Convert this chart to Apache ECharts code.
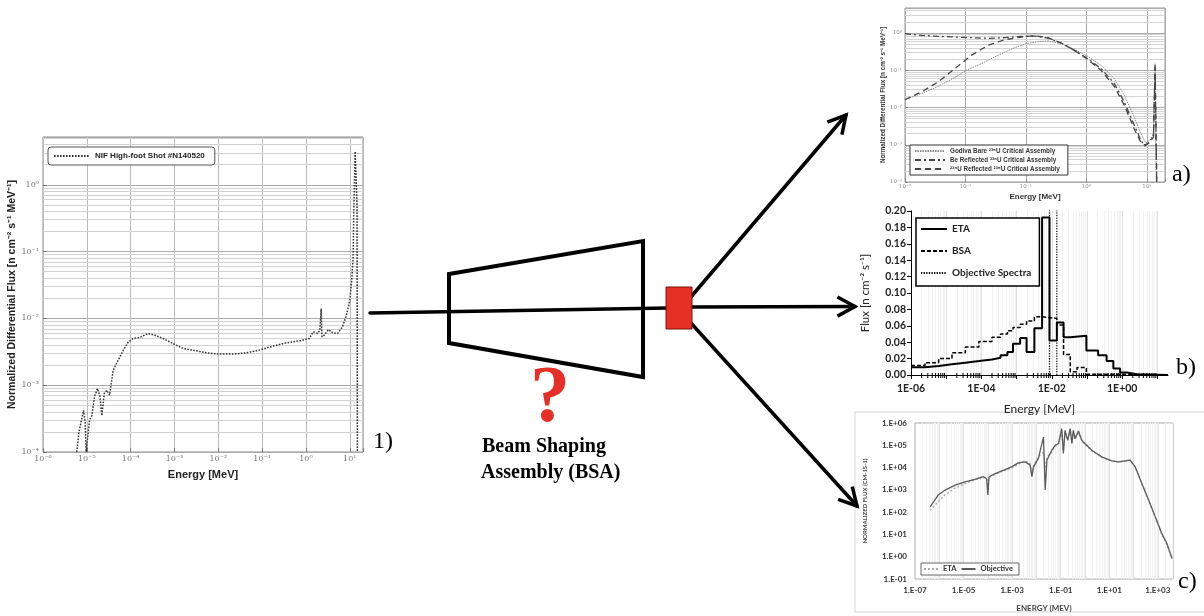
<!DOCTYPE html>
<html><head><meta charset="utf-8">
<script src="https://cdn.jsdelivr.net/npm/echarts@6/dist/echarts.min.js"></script>
<style>html,body{margin:0;padding:0;background:#fff}#c{width:1204px;height:616px}</style>
</head><body><div id="c"></div>
<script>
// ---------- Panel 1) NIF spectrum ----------
const nifEnergy = [5.9e-6,6.6e-6,7.3e-6,8.4e-6,9.2e-6,9.7e-6,1.03e-5,1.15e-5,1.3e-5,1.49e-5,1.75e-5,2.0e-5,2.2e-5,2.5e-5,2.85e-5,3.3e-5,4.0e-5,5.2e-5,6.8e-5,8.9e-5,1.15e-4,1.63e-4,2.5e-4,3.6e-4,5.5e-4,9.3e-4,1.57e-3,2.65e-3,5.3e-3,1.07e-2,2.15e-2,4.3e-2,8.7e-2,0.175,0.35,0.70,1.19,1.47,1.84,2.08,2.23,2.31,2.61,3.27,4.04,5.25,6.8,8.4,10.0,11.1,11.9,12.3,12.8,13.2,14.6,14.9];
const nifFlux = [1.0e-4,2.0e-4,2.7e-4,4.2e-4,2.7e-4,1.0e-4,1.5e-4,3.0e-4,3.5e-4,6.7e-4,8.9e-4,6.7e-4,3.5e-4,7.5e-4,8.4e-4,7.1e-4,1.68e-3,2.37e-3,3.35e-3,4.47e-3,5.0e-3,5.2e-3,5.96e-3,5.6e-3,5.0e-3,4.2e-3,3.55e-3,3.35e-3,3.05e-3,2.92e-3,2.92e-3,3.05e-3,3.35e-3,3.85e-3,4.3e-3,4.6e-3,5.0e-3,6.3e-3,5.96e-3,6.7e-3,1.4e-2,5.3e-3,5.6e-3,6.8e-3,6.1e-3,5.96e-3,7.5e-3,1.12e-2,1.88e-2,3.76e-2,8.4e-2,0.376,1.19,3.16,0.5,1.0e-4];
const nifName = 'NIF High-foot Shot #N140520';

// ---------- Panel a) critical assemblies ----------
const aEnergy = [1e-3,1.88e-3,3.55e-3,6.67e-3,9.8e-3,1.84e-2,3.46e-2,6.5e-2,0.101,0.158,0.231,0.382,0.634,1.05,1.75,2.9,4.23,6.18,7.95,9.6,11.3,12.9,13.7,14.3];
const godivaFlux = [0.0164,0.0237,0.0372,0.0637,0.096,0.151,0.252,0.405,0.518,0.586,0.61,0.518,0.365,0.237,0.136,0.0598,0.0214,0.0056,0.002,0.00113,0.00133,0.002,0.151,1.0e-4];
const bEnergy = [1e-3,1.88e-3,3.55e-3,6.67e-3,1.25e-2,2.36e-2,4.45e-2,8.4e-2,0.139,0.231,0.382,0.634,1.05,1.75,2.9,4.23,6.18,7.95,9.3,11.0,12.9,13.7,14.6];
const beFlux = [0.96,0.866,0.814,0.78,0.75,0.72,0.75,0.814,0.83,0.735,0.54,0.343,0.205,0.111,0.044,0.0142,0.0034,0.00134,0.00092,0.00118,0.0018,0.136,1.0e-4];
const uFlux = [0.0162,0.0264,0.0487,0.111,0.252,0.467,0.663,0.78,0.848,0.75,0.54,0.343,0.197,0.1,0.037,0.0116,0.0027,0.00118,0.00099,0.00113,0.0016,0.123,1.0e-4];
const aNames = ['Godiva Bare \u00B2\u00B3\u2075U Critical Assembly','Be Reflected \u00B2\u00B3\u2075U Critical Assembly','\u00B2\u00B3\u2078U Reflected \u00B2\u00B3\u2075U Critical Assembly'];

// ---------- Panel b) group fluxes ----------
const etaEdges = [1e-6,2.5e-6,6.1e-6,1.46e-5,3.5e-5,8.5e-5,2.0e-4,3.5e-4,5.5e-4,7.9e-4,1.26e-3,1.92e-3,3.2e-3,5.3e-3,8.6e-3,1.39e-2,2.16e-2,3.35e-2,9.6e-2,0.207,0.36,0.56,0.87,1.35,2.6,20];
const etaFlux = [0.0095,0.011,0.013,0.015,0.017,0.019,0.021,0.024,0.028,0.038,0.045,0.028,0.057,0.192,0.042,0.064,0.046,0.048,0.030,0.024,0.017,0.008,0.003,0.001,0.0];
const bsaEdges = [1e-6,2.5e-6,6.1e-6,1.46e-5,3.5e-5,8.5e-5,2.0e-4,3.5e-4,5.5e-4,7.9e-4,1.26e-3,1.92e-3,3.2e-3,5.3e-3,1.39e-2,2.16e-2,3.35e-2,5.2e-2,9.6e-2,0.87,20];
const bsaFlux = [0.0115,0.015,0.020,0.027,0.034,0.041,0.046,0.050,0.054,0.058,0.062,0.066,0.071,0.069,0.061,0.025,0.004,0.009,0.001,0.0];
const objEnergy = [0.0086,0.0086,0.0139,0.0139];
const objFlux = [0,0.25,0.25,0];
const bNames = ['ETA','BSA','Objective Spectra'];

// ---------- Panel c) normalized flux ----------
const cEnergy = [4.2e-7,9.1e-7,1.74e-6,4.5e-6,1.15e-5,2.95e-5,6.6e-5,8.9e-5,1.0e-4,1.12e-4,2.0e-4,5.1e-4,9.5e-4,1.8e-3,3.4e-3,5.5e-3,6.5e-3,7.6e-3,1.2e-2,1.95e-2,2.3e-2,2.7e-2,4.3e-2,5.9e-2,8.1e-2,0.11,0.129,0.151,0.195,0.245,0.288,0.331,0.389,0.537,0.741,1.0,1.9,4.9,12.6,24,44.7,72,117,219,417,776,1445,2340,3240,3800];
const cObjective = [174,589,977,1620,2290,2950,3890,3240,589,3890,5370,8130,10700,16200,18200,12900,3890,10700,25700,234000,977,21400,60300,100000,120000,562000,42700,468000,166000,562000,120000,468000,200000,437000,166000,120000,60300,30200,20000,18200,20000,21400,10700,1950,347,63,11.2,4,1.45,0.85];
const cEta = [120,300,600,1200,1900,2800,3600,3300,1500,3600,5000,7500,9800,14000,20000,15000,6000,12000,30000,50000,9000,30000,50000,90000,110000,400000,60000,350000,180000,450000,130000,380000,180000,350000,150000,110000,56000,29000,19500,17800,19500,21000,10500,1900,330,60,10,3.5,1.3,0.8];
const cNames = ['ETA|c','Objective|c'];

// ---------- helpers (formatting / gridline positions only) ----------
const SUPMAP = {'-':'\u207B','0':'\u2070','1':'\u00B9','2':'\u00B2','3':'\u00B3','4':'\u2074','5':'\u2075','6':'\u2076','7':'\u2077','8':'\u2078','9':'\u2079'};
const sup = s => String(s).split('').map(c => SUPMAP[c] || c).join('');
function expOf(v){ const l = Math.log10(v), e = Math.round(l); return Math.abs(l - e) < 1e-6 ? e : null; }
function labPow(v){ const e = expOf(v); return e === null ? '' : '10' + sup(e); }
function ePart(e){ return (e < 0 ? '-' : '+') + String(Math.abs(e)).padStart(2, '0'); }
function labE(v){ const e = expOf(v); return (e === null || e % 2 !== 0) ? '' : '1E' + ePart(e); }
function labDotOdd(v){ const e = expOf(v); return (e === null || Math.abs(e % 2) !== 1) ? '' : '1.E' + ePart(e); }
function labDot(v){ const e = expOf(v); return e === null ? '' : '1.E' + ePart(e); }
function minorVals(lo, hi){ const out = []; for (let n = Math.floor(Math.log10(lo)); n <= Math.ceil(Math.log10(hi)); n++) for (let k = 2; k <= 9; k++){ const v = k * Math.pow(10, n); if (v > lo * 1.0001 && v < hi * 0.9999) out.push(v); } return out; }
function decadeVals(lo, hi){ const out = []; for (let n = Math.ceil(Math.log10(lo)); n <= Math.floor(Math.log10(hi)); n++) out.push(Math.pow(10, n)); return out; }
const pairs = (xs, ys) => xs.map((x, i) => [x, ys[i]]);
const stepPairs = (edges, vals) => edges.map((x, i) => [x, vals[Math.min(i, vals.length - 1)]]);
function arrowHead(x1, y1, x2, y2, len, ang){ const a = Math.atan2(y2 - y1, x2 - x1); return [[x2 - len*Math.cos(a-ang), y2 - len*Math.sin(a-ang)], [x2, y2], [x2 - len*Math.cos(a+ang), y2 - len*Math.sin(a+ang)]]; }

const SANS = 'Liberation Sans', CAL = 'Lato', SERIF = 'Liberation Serif';
const mlBase = { silent: true, symbol: 'none', animation: false, precision: 12, z: 1, label: { show: false }, emphasis: { disabled: true } };
const noSym = { opacity: 0 };

const chart = echarts.init(document.getElementById('c'), null, { renderer: 'canvas' });

const option = {
  animation: false,
  backgroundColor: '#fff',
  grid: [
    { left: 43, top: 137, width: 320, height: 315, show: true, borderColor: '#888', borderWidth: 1, outerBoundsMode: 'none' },
    { left: 905, top: 8, width: 260, height: 174, show: true, borderColor: '#999', borderWidth: 1, outerBoundsMode: 'none' },
    { left: 911, top: 211, width: 257, height: 164, show: false, outerBoundsMode: 'none' },
    { left: 915, top: 423, width: 258, height: 156, show: true, borderColor: '#aaa', borderWidth: 1, outerBoundsMode: 'none' }
  ],
  xAxis: [
    { type: 'log', gridIndex: 0, min: 1e-6, max: 20, name: 'Energy [MeV]', nameLocation: 'middle', nameGap: 17,
      nameTextStyle: { fontFamily: SANS, fontWeight: 'bold', fontSize: 11, color: '#222' },
      axisLine: { show: false }, axisTick: { show: true, inside: true, length: 4, lineStyle: { color: '#777' } },
      axisLabel: { formatter: labPow, fontSize: 8, color: '#777', fontFamily: 'DejaVu Serif', margin: 3 },
      splitLine: { show: true, lineStyle: { color: '#bbb', width: 1 } } },
    { type: 'log', gridIndex: 1, min: 1e-3, max: 20, name: 'Energy [MeV]', nameLocation: 'middle', nameGap: 11,
      nameTextStyle: { fontFamily: SANS, fontWeight: 'bold', fontSize: 8, color: '#333' },
      axisLine: { show: false }, axisTick: { show: true, inside: true, length: 3, lineStyle: { color: '#888' } },
      axisLabel: { formatter: labPow, fontSize: 5.5, color: '#888', fontFamily: 'DejaVu Serif', margin: 2 },
      splitLine: { show: true, lineStyle: { color: '#aaa', width: 1 } } },
    { type: 'log', gridIndex: 2, min: 1e-6, max: 20, name: 'Energy [MeV]', nameLocation: 'middle', nameGap: 28,
      nameTextStyle: { fontFamily: CAL, fontSize: 12, color: '#222' },
      axisLine: { show: true, onZero: false, lineStyle: { color: '#000', width: 1 } },
      axisTick: { show: true, length: 4, lineStyle: { color: '#000' } },
      axisLabel: { formatter: labE, fontSize: 10.5, fontWeight: 'bold', color: '#222', fontFamily: CAL, margin: 8, showMaxLabel: false },
      splitLine: { show: false } },
    { type: 'log', gridIndex: 3, min: 1e-7, max: 4200, interval: 1, name: 'ENERGY (MEV)', nameLocation: 'middle', nameGap: 25,
      nameTextStyle: { fontFamily: CAL, fontWeight: 'bold', fontSize: 8, color: '#444' },
      axisLine: { show: false }, axisTick: { show: false },
      axisLabel: { formatter: labDotOdd, fontSize: 8, fontWeight: 'bold', color: '#333', fontFamily: CAL, margin: 7, showMaxLabel: false },
      splitLine: { show: false } }
  ],
  yAxis: [
    { type: 'log', gridIndex: 0, min: 1e-4, max: 5.2, name: 'Normalized Differential Flux [n cm\u207B\u00B2 s\u207B\u00B9 MeV\u207B\u00B9]',
      nameLocation: 'middle', nameGap: 23, nameRotate: 90,
      nameTextStyle: { fontFamily: SANS, fontWeight: 'bold', fontSize: 10.5, color: '#222' },
      axisLine: { show: false }, axisTick: { show: true, inside: true, length: 4, lineStyle: { color: '#777' } },
      axisLabel: { formatter: labPow, fontSize: 8, color: '#777', fontFamily: 'DejaVu Serif', margin: 4, showMaxLabel: false },
      splitLine: { show: true, lineStyle: { color: '#aaa', width: 1 } } },
    { type: 'log', gridIndex: 1, min: 1e-4, max: 4.7, name: 'Normalized Differential Flux [n cm\u207B\u00B2 s\u207B\u00B9 MeV\u207B\u00B9]',
      nameLocation: 'middle', nameGap: 19, nameRotate: 90,
      nameTextStyle: { fontFamily: SANS, fontWeight: 'bold', fontSize: 6.3, color: '#333' },
      axisLine: { show: false }, axisTick: { show: true, inside: true, length: 3, lineStyle: { color: '#888' } },
      axisLabel: { formatter: labPow, fontSize: 5.5, color: '#888', fontFamily: 'DejaVu Serif', margin: 3, showMaxLabel: false },
      splitLine: { show: true, lineStyle: { color: '#aaa', width: 1 } } },
    { type: 'value', gridIndex: 2, min: 0, max: 0.2, interval: 0.02, name: 'Flux [n cm\u207B\u00B2 s\u207B\u00B9]',
      nameLocation: 'middle', nameGap: 40, nameRotate: 90,
      nameTextStyle: { fontFamily: CAL, fontSize: 11.5, color: '#222' },
      axisLine: { show: true, lineStyle: { color: '#000', width: 1 } },
      axisTick: { show: true, length: 4, lineStyle: { color: '#000' } },
      axisLabel: { formatter: v => v.toFixed(2), fontSize: 10.5, fontWeight: 'bold', color: '#222', fontFamily: CAL, margin: 5 },
      splitLine: { show: false } },
    { type: 'log', gridIndex: 3, min: 0.1, max: 1e6, name: 'NORMALIZED FLUX (CM-1S-1)',
      nameLocation: 'middle', nameGap: 47, nameRotate: 90,
      nameTextStyle: { fontFamily: CAL, fontWeight: 'bold', fontSize: 6, color: '#444' },
      axisLine: { show: false }, axisTick: { show: false },
      axisLabel: { formatter: labDot, fontSize: 8, fontWeight: 'bold', color: '#333', fontFamily: CAL, margin: 8 },
      splitLine: { show: false } }
  ],
  legend: [
    { data: [nifName], left: 48, top: 147, z: 20, orient: 'horizontal', itemWidth: 36, itemHeight: 8, itemStyle: noSym,
      padding: [5, 10, 5, 5], borderColor: '#555', borderWidth: 1, borderRadius: 3, backgroundColor: '#fff',
      textStyle: { fontFamily: SANS, fontWeight: 'bold', fontSize: 8, color: '#222' }, selectedMode: false },
    { data: aNames, left: 910, top: 145, z: 20, orient: 'vertical', itemWidth: 30, itemHeight: 6, itemGap: 3, itemStyle: noSym,
      padding: [3, 8, 3, 4], borderColor: '#333', borderWidth: 1, backgroundColor: '#fff',
      textStyle: { fontFamily: SANS, fontWeight: 'bold', fontSize: 6.3, color: '#333' }, selectedMode: false },
    { data: bNames, left: 916, top: 218, z: 20, orient: 'vertical', itemWidth: 26, itemHeight: 12, itemGap: 12, itemStyle: noSym,
      padding: [6, 8, 8, 4], borderColor: '#000', borderWidth: 1.5, backgroundColor: '#fff',
      textStyle: { fontFamily: CAL, fontWeight: 'bold', fontSize: 10, color: '#222' }, selectedMode: false },
    { data: cNames, left: 921, top: 563, z: 20, orient: 'horizontal', itemWidth: 14, itemHeight: 6, itemGap: 4, itemStyle: noSym,
      padding: [2, 6, 2, 2], borderColor: '#666', borderWidth: 1, backgroundColor: '#fff',
      formatter: n => n.split('|')[0],
      textStyle: { fontFamily: CAL, fontWeight: 'bold', fontSize: 7.5, color: '#333' }, selectedMode: false }
  ],
  series: [
    // Panel 1
    { type: 'line', name: nifName, xAxisIndex: 0, yAxisIndex: 0, data: pairs(nifEnergy, nifFlux),
      symbol: 'none', showSymbol: false, z: 3, itemStyle: noSym, lineStyle: { color: '#333', width: 1.5, type: [1.6, 1.4] },
      markLine: Object.assign({}, mlBase, { lineStyle: { color: '#d2d2d2', width: 1, type: 'solid' },
        data: minorVals(1e-4, 5.2).map(v => ({ yAxis: v })) }) },
    // Panel a
    { type: 'line', name: aNames[0], xAxisIndex: 1, yAxisIndex: 1, data: pairs(aEnergy, godivaFlux),
      symbol: 'none', z: 3, itemStyle: noSym, lineStyle: { color: '#888', width: 1, type: [1.5, 1] },
      markLine: Object.assign({}, mlBase, { lineStyle: { color: '#d4d4d4', width: 1, type: 'solid' },
        data: minorVals(1e-4, 4.7).map(v => ({ yAxis: v })) }) },
    { type: 'line', name: aNames[1], xAxisIndex: 1, yAxisIndex: 1, data: pairs(bEnergy, beFlux),
      symbol: 'none', z: 3, itemStyle: noSym, lineStyle: { color: '#444', width: 1.3, type: [6, 3, 2, 3] } },
    { type: 'line', name: aNames[2], xAxisIndex: 1, yAxisIndex: 1, data: pairs(bEnergy, uFlux),
      symbol: 'none', z: 3, itemStyle: noSym, lineStyle: { color: '#444', width: 1.3, type: [6, 4] } },
    // Panel b
    { type: 'line', name: bNames[0], xAxisIndex: 2, yAxisIndex: 2, data: stepPairs(etaEdges, etaFlux), step: 'end',
      symbol: 'none', z: 4, itemStyle: noSym, lineStyle: { color: '#000', width: 2 },
      markLine: Object.assign({}, mlBase, { lineStyle: { color: '#f1f1f1', width: 1, type: 'solid' },
        data: minorVals(1e-6, 20).map(v => ({ xAxis: v })).concat(decadeVals(2e-6, 20).map(v => ({ xAxis: v, lineStyle: { color: '#e0e0e0', width: 1, type: 'solid' } }))) }) },
    { type: 'line', name: bNames[1], xAxisIndex: 2, yAxisIndex: 2, data: stepPairs(bsaEdges, bsaFlux), step: 'end',
      symbol: 'none', z: 3, itemStyle: noSym, lineStyle: { color: '#000', width: 1.5, type: [4, 2] } },
    { type: 'line', name: bNames[2], xAxisIndex: 2, yAxisIndex: 2, data: pairs(objEnergy, objFlux),
      symbol: 'none', z: 3, clip: true, itemStyle: noSym, lineStyle: { color: '#000', width: 1.2, type: [1.3, 1.3] } },
    // Panel b: minor tick marks on the log energy axis
    { type: 'custom', name: 'bMinorTicks', xAxisIndex: 2, yAxisIndex: 2, silent: true, z: 5,
      data: minorVals(1e-6, 20).map(v => [v, 0]),
      renderItem: (params, api) => { const p = api.coord([api.value(0), api.value(1)]);
        return { type: 'line', shape: { x1: p[0], y1: p[1] - 2, x2: p[0], y2: p[1] + 3 }, style: { stroke: '#000', lineWidth: 1 } }; } },
    // Panel c
    { type: 'line', name: cNames[0], xAxisIndex: 3, yAxisIndex: 3, data: pairs(cEnergy, cEta),
      symbol: 'none', z: 3, itemStyle: noSym, lineStyle: { color: '#a8a8a8', width: 1.3, type: [2, 2] },
      markLine: Object.assign({}, mlBase, { lineStyle: { color: '#f2f2f2', width: 1, type: 'solid' },
        data: minorVals(1e-7, 4200).map(v => ({ xAxis: v })).concat(decadeVals(2e-7, 4200).map(v => ({ xAxis: v, lineStyle: { color: '#e2e2e2', width: 1, type: 'solid' } }))) }) },
    { type: 'line', name: cNames[1], xAxisIndex: 3, yAxisIndex: 3, data: pairs(cEnergy, cObjective),
      symbol: 'none', z: 4, itemStyle: noSym, lineStyle: { color: '#5a5a5a', width: 1.3 } }
  ],
  graphic: { elements: (function(){
    const els = [];
    const ln = (x1,y1,x2,y2,w) => els.push({ type: 'line', shape: { x1, y1, x2, y2 }, style: { stroke: '#000', lineWidth: w || 3.5, lineCap: 'round' }, silent: true });
    const head = (x1,y1,x2,y2) => els.push({ type: 'polyline', shape: { points: arrowHead(x1,y1,x2,y2,20,0.5) }, style: { stroke: '#000', lineWidth: 3.5, fill: 'none', lineJoin: 'miter' }, silent: true });
    els.push({ type: 'rect', shape: { x: 855, y: 412, width: 360, height: 200 }, style: { stroke: '#d4d4d4', lineWidth: 1, fill: 'none' }, silent: true });
    ln(370, 313, 668, 308);
    els.push({ type: 'polygon', shape: { points: [[449,274],[643,241],[643,377],[449,343]] }, style: { stroke: '#000', lineWidth: 4, fill: 'none', lineJoin: 'miter' }, silent: true });
    ln(692, 307, 855, 306.5); head(692, 307, 855, 306.5);
    ln(690, 298, 846, 115); head(690, 298, 846, 115);
    ln(690, 322, 857, 506); head(690, 322, 857, 506);
    els.push({ type: 'rect', shape: { x: 666, y: 287, width: 26, height: 42 }, style: { fill: '#e63025', stroke: '#7a1208', lineWidth: 1 }, silent: true });
    els.push({ type: 'text', style: { x: 550, y: 400, text: '?', fill: '#e63025', fontFamily: SERIF, fontWeight: 'bold', fontSize: 80, align: 'center', verticalAlign: 'middle' }, silent: true });
    els.push({ type: 'text', style: { x: 482, y: 447, text: 'Beam Shaping', fill: '#000', fontFamily: SERIF, fontWeight: 'bold', fontSize: 20, align: 'left', verticalAlign: 'middle' }, silent: true });
    els.push({ type: 'text', style: { x: 481, y: 473, text: 'Assembly (BSA)', fill: '#000', fontFamily: SERIF, fontWeight: 'bold', fontSize: 20, align: 'left', verticalAlign: 'middle' }, silent: true });
    const tag = (x, y, t) => els.push({ type: 'text', style: { x, y, text: t, fill: '#000', fontFamily: SERIF, fontSize: 24, align: 'left', verticalAlign: 'middle' }, silent: true });
    tag(373, 442, '1)'); tag(1172, 175, 'a)'); tag(1176, 368, 'b)'); tag(1178, 582, 'c)');
    return els;
  })() }
};
chart.setOption(option);
</script></body></html>
